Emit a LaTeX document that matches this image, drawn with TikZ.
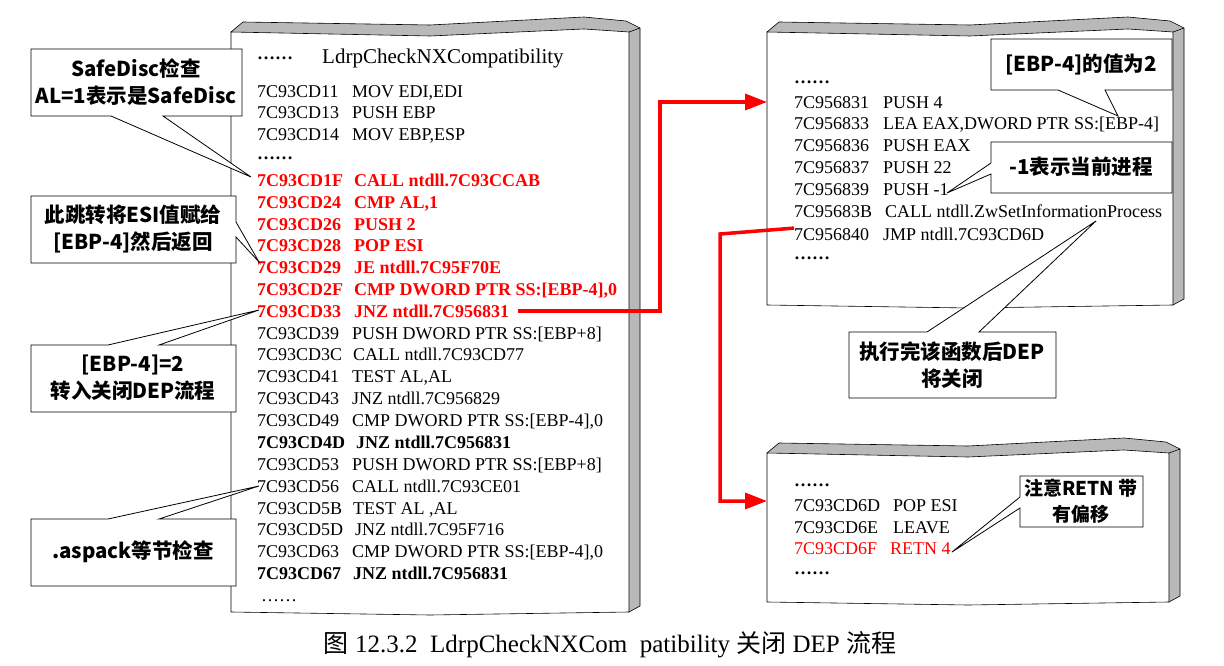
\documentclass[tikz,border=0pt]{standalone}
\usepackage{fontspec}
\setmainfont{Liberation Serif}
\newfontfamily\cjk{Noto Sans CJK SC}
\usetikzlibrary{arrows.meta}
\tikzset{
  code/.style={anchor=base west,inner sep=0pt,font=\fontsize{18}{20}\selectfont},
  hot/.style={code,text=red,font=\fontsize{18}{20}\selectfont\bfseries},
  bold/.style={code,font=\fontsize{18}{20}\selectfont\bfseries},
  red2/.style={code,text=red},
  callout/.style={draw=black,fill=white,line width=0.8pt},
  ctext/.style={align=center,inner sep=0pt,font=\cjk\bfseries\fontsize{20.5}{27}\selectfont},
  jump/.style={red,line width=3.5pt,-{Triangle[length=22pt,width=16pt]}},
  bevel/.style={fill=gray!55,draw=black,line width=0.6pt},
  front/.style={fill=white,draw=black,line width=0.6pt}
}
\newcommand\mypanel[4]{%
  \pgfmathsetmacro\pmid{(#1+#3)/2}%
  \draw[bevel] (#1,#2) -- ({#1+12},{#2-10}) -- (\pmid,{#2-7}) -- ({#3-45},{#2-15}) -- ({#3-3},{#2-11}) -- ({#3+11},{#2-4}) -- ({#3+11},{#4-6}) -- (#3,#4) -- cycle;
  \draw[front] (#1,#2) -- (\pmid,{#2+4}) -- ({#3-45},{#2-3}) -- ({#3+0},{#2}) -- (#3,#4) -- (\pmid,{#4+3}) -- (#1,#4) -- cycle;
  \draw[line width=0.6pt] ({#3},{#2}) -- ({#3+11},{#2-4});
}
\begin{document}
\begin{tikzpicture}[x=1pt,y=-1pt]
\useasboundingbox (0,0) rectangle (1224,666);
% panels
\mypanel{231}{32}{629}{612}
\mypanel{767}{32}{1173}{305}
\mypanel{767}{453}{1169}{602}

% main panel text
\node[code] (dots0) at (257,60) {\textbf{……}};
\node[code,font=\fontsize{21}{22}\selectfont] (title) at (322,64) {LdrpCheckNXCompatibility};
\node[code] (a1) at (257,98) {7C93CD11};  \node[code] at (352,98) {MOV EDI,EDI};
\node[code] (a2) at (257,119) {7C93CD13};  \node[code] at (352,119) {PUSH EBP};
\node[code] (a3) at (257,141) {7C93CD14};  \node[code] at (352,141) {MOV EBP,ESP};
\node[code] (dots1) at (257,160) {\textbf{……}};
\node[hot] (r1) at (257,186) {7C93CD1F};  \node[hot] at (354,186) {CALL ntdll.7C93CCAB};
\node[hot] (r2) at (257,208) {7C93CD24};  \node[hot] at (354,208) {CMP AL,1};
\node[hot] (r3) at (257,230) {7C93CD26};  \node[hot] at (354,230) {PUSH 2};
\node[hot] (r4) at (257,251) {7C93CD28};  \node[hot] at (354,251) {POP ESI};
\node[hot] (r5) at (257,273) {7C93CD29};  \node[hot] at (354,273) {JE ntdll.7C95F70E};
\node[hot] (r6) at (257,295) {7C93CD2F};  \node[hot] at (354,295) {CMP DWORD PTR SS:[EBP-4],0};
\node[hot] (r7) at (257,317) {7C93CD33};  \node[hot] (r7i) at (354,317) {JNZ ntdll.7C956831};
\node[code] (b1) at (257,339) {7C93CD39};  \node[code] at (352,339) {PUSH DWORD PTR SS:[EBP+8]};
\node[code] (b2) at (257,360) {7C93CD3C};  \node[code] at (353,360) {CALL ntdll.7C93CD77};
\node[code] (b3) at (257,382) {7C93CD41};  \node[code] at (352,382) {TEST AL,AL};
\node[code] (b4) at (257,404) {7C93CD43};  \node[code] at (352,404) {JNZ ntdll.7C956829};
\node[code] (b5) at (257,426) {7C93CD49};  \node[code] at (352,426) {CMP DWORD PTR SS:[EBP-4],0};
\node[bold] (b6) at (257,448) {7C93CD4D};  \node[bold] at (356,448) {JNZ ntdll.7C956831};
\node[code] (b7) at (257,470) {7C93CD53};  \node[code] at (352,470) {PUSH DWORD PTR SS:[EBP+8]};
\node[code] (b8) at (257,492) {7C93CD56};  \node[code] at (352,492) {CALL ntdll.7C93CE01};
\node[code] (b9) at (257,514) {7C93CD5B};  \node[code] at (353,514) {TEST AL ,AL};
\node[code] (b10) at (257,535) {7C93CD5D};  \node[code] at (355,535) {JNZ ntdll.7C95F716};
\node[code] (b11) at (257,557) {7C93CD63};  \node[code] at (352,557) {CMP DWORD PTR SS:[EBP-4],0};
\node[bold] (b12) at (257,579) {7C93CD67};  \node[bold] at (353,579) {JNZ ntdll.7C956831};
\node[code] (dots2) at (261,601) {……};

% right panel 1 text
\node[code] (p0) at (794,84) {\textbf{……}};
\node[code] (p1) at (794,109) {7C956831};  \node[code] (p1i) at (883,109) {PUSH 4};
\node[code] (p2) at (794,130) {7C956833};  \node[code] (p2i) at (883,130) {LEA EAX,DWORD PTR SS:[EBP-4]};
\node[code] (p3) at (794,152) {7C956836};  \node[code] at (883,152) {PUSH EAX};
\node[code] (p4) at (794,174) {7C956837};  \node[code] at (883,174) {PUSH 22};
\node[code] (p5) at (794,196) {7C956839};  \node[code] (p5i) at (883,196) {PUSH -1};
\node[code] (p6) at (794,218) {7C95683B};  \node[code] (p6i) at (885,218) {CALL ntdll.ZwSetInformationProcess};
\node[code] (p7) at (794,240) {7C956840};  \node[code] at (883,240) {JMP ntdll.7C93CD6D};
\node[code] (p8) at (794,259) {\textbf{……}};

% right panel 2 text
\node[code] (q0) at (794,486) {\textbf{……}};
\node[code] (q1) at (794,511) {7C93CD6D};  \node[code] at (893,511) {POP ESI};
\node[code] (q2) at (794,533) {7C93CD6E};  \node[code] at (893,533) {LEAVE};
\node[red2] (q3) at (794,554) {7C93CD6F};  \node[red2] (q3i) at (890,554) {RETN 4};
\node[code] (q4) at (794,574) {\textbf{……}};

% jumps
\coordinate (t1) at (767,102);
\coordinate (t2) at (767,501);
\draw[jump] (518,311) -- (660,311) -- (660,102) -- (t1);
\draw[jump] (p7.west) ++(0,-6) -- (720,234) -- (720,501) -- (t2);

% callouts
\draw[callout] (31,49) -- (242,49) -- (242,116) -- (163,116) -- (251,177) -- (111,116) -- (31,116) -- cycle;
\node[ctext] (c1) at (136,82) {SafeDisc检查\\AL=1表示是SafeDisc};
\draw[callout] (31,196) -- (236,196) -- (236,222) -- (259,262) -- (236,237) -- (236,263) -- (31,263) -- cycle;
\node[ctext] (c2) at (133,229) {此跳转将ESI值赋给\\{[EBP-4]}然后返回};
\draw[callout] (31,345) -- (108,345) -- (259,310) -- (159,345) -- (236,345) -- (236,412) -- (31,412) -- cycle;
\node[ctext] (c3) at (133,378) {{[EBP-4]}=2\\转入关闭DEP流程};
\draw[callout] (31,519) -- (108,519) -- (259,486) -- (159,519) -- (236,519) -- (236,586) -- (31,586) -- cycle;
\node[ctext] (c4) at (133,552) {.aspack等节检查};
\draw[callout] (991,39) -- (1172,39) -- (1172,90) -- (1105,90) -- (1118,116) -- (1058,90) -- (991,90) -- cycle;
\node[ctext] (c5) at (1081,65) {[EBP-4]的值为2};
\draw[callout] (991,142) -- (1172,142) -- (1172,193) -- (991,193) -- (991,174) -- (947,193) -- (991,163) -- cycle;
\node[ctext] (c6) at (1081,167) {-1表示当前进程};
\draw[callout] (849,332) -- (927,332) -- (1096,221) -- (979,332) -- (1056,332) -- (1056,398) -- (849,398) -- cycle;
\node[ctext] (c7) at (952,365) {执行完该函数后DEP\\将关闭};
\draw[callout] (1020,476) -- (1143,476) -- (1143,527) -- (1020,527) -- (1020,508) -- (952,552) -- (1020,497) -- cycle;
\node[ctext,font=\cjk\bfseries\fontsize{19}{26}\selectfont] (c8) at (1081,501) {注意RETN 带\\有偏移};

% caption
\node[font=\fontsize{25}{27}\selectfont] (cap) at (610,645) {{\cjk 图} 12.3.2\ \ LdrpCheckNXCom\ \ patibility {\cjk 关闭} DEP {\cjk 流程}};
\end{tikzpicture}
\end{document}
